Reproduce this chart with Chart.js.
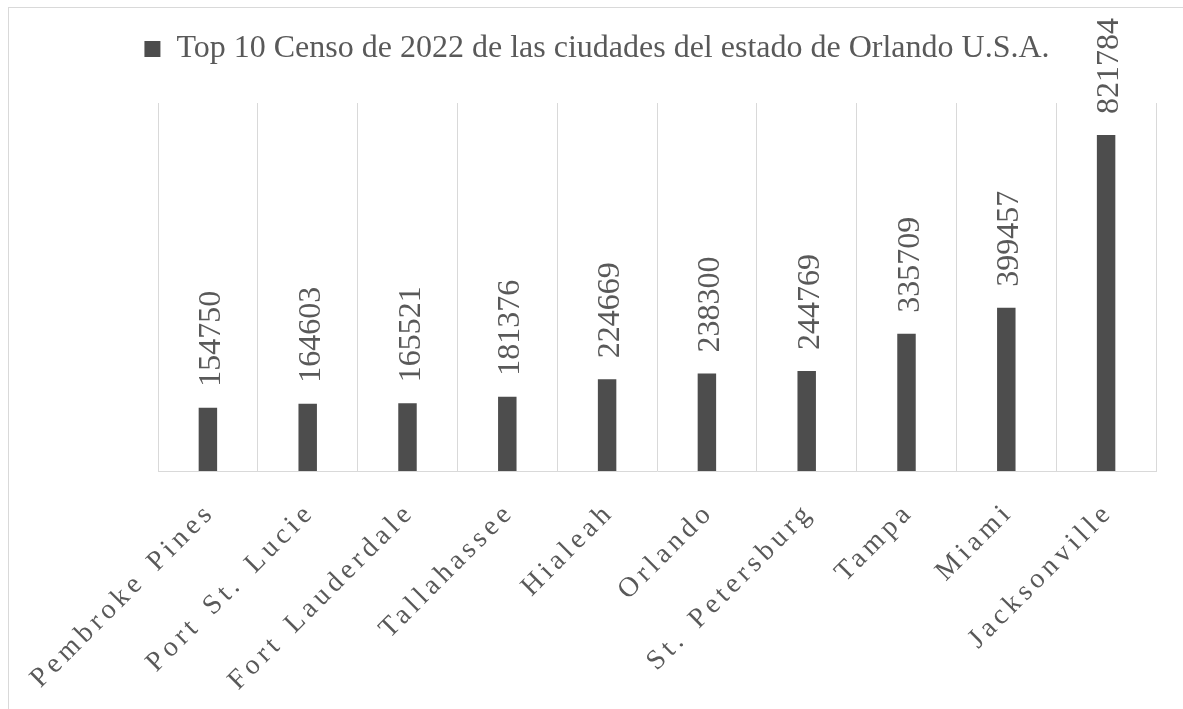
<!DOCTYPE html>
<html>
<head>
<meta charset="utf-8">
<script src="https://cdn.jsdelivr.net/npm/chart.js@4"></script>
<style>
  html, body { margin: 0; padding: 0; background: #fff; overflow: hidden; }
  #wrap { position: relative; width: 1183px; height: 709px; }
  #frame { position: absolute; left: 8px; top: 7px; width: 1300px; height: 800px; border: 1px solid #d9d9d9; }
  #chartOne { position: absolute; left: 0; top: 0; }
</style>
</head>
<body>
<div id="wrap">
  <div id="frame"></div>
  <canvas id="chartOne" width="1183" height="709"></canvas>
</div>
<script>
"use strict";

let cities = [
  "Pembroke Pines",
  "Port St. Lucie",
  "Fort Lauderdale",
  "Tallahassee",
  "Hialeah",
  "Orlando",
  "St. Petersburg",
  "Tampa",
  "Miami",
  "Jacksonville",
];
let population = [154750, 164603, 165521, 181376, 224669, 238300, 244769, 335709, 399457, 821784];
let seriesName = "Top 10 Censo de 2022 de las ciudades del estado de Orlando U.S.A.";

let serif = "'Liberation Serif', 'Times New Roman', serif";
let grey = "#595959";

// numbers written upright above each bar
let barLabels = {
  id: "barLabels",
  afterDatasetsDraw(chart) {
    let ctx = chart.ctx;
    let meta = chart.getDatasetMeta(0);
    ctx.save();
    ctx.font = "32px " + serif;
    ctx.fillStyle = grey;
    ctx.textAlign = "left";
    ctx.textBaseline = "alphabetic";
    meta.data.forEach((bar, i) => {
      ctx.save();
      ctx.translate(bar.x + 12, bar.y - 21);
      ctx.rotate(-Math.PI / 2);
      ctx.fillText(String(chart.data.datasets[0].data[i]), 0, 0);
      ctx.restore();
    });
    ctx.restore();
  },
};

// wide letter spacing on the city names, extra room under the legend
let tweaks = {
  id: "tweaks",
  beforeLayout(chart) {
    let lg = chart.legend;
    if (lg && !lg._padded) {
      let fit = lg.fit.bind(lg);
      lg.fit = function () {
        fit();
        this.height += 28;
      };
      lg._padded = true;
    }
  },
  afterLayout(chart) {
    let sc = chart.scales.x;
    if (!sc._spaced) {
      let orig = sc.drawLabels.bind(sc);
      sc.drawLabels = function (area) {
        let c = this.ctx;
        c.save();
        c.letterSpacing = "4.5px";
        c.wordSpacing = "4px";
        orig(area);
        c.restore();
      };
      sc._spaced = true;
    }
  },
};

let ctxOne = document.getElementById("chartOne").getContext("2d");
let chartOne = new Chart(ctxOne, {
  type: "bar",
  data: {
    labels: cities,
    datasets: [
      {
        label: seriesName,
        data: population,
        backgroundColor: "#4d4d4d",
        barPercentage: 0.185,
        categoryPercentage: 1,
      },
    ],
  },
  options: {
    responsive: false,
    animation: false,
    layout: {
      padding: { left: 11, right: 0, top: 23, bottom: 0 },
    },
    plugins: {
      tooltip: { enabled: false },
      legend: {
        position: "top",
        labels: {
          font: { family: serif, size: 32 },
          color: grey,
          boxWidth: 16,
          boxHeight: 16,
          padding: 10,
        },
      },
    },
    scales: {
      x: {
        offset: true,
        grid: { offset: true, color: "#d9d9d9", drawTicks: false },
        border: { color: "#d9d9d9" },
        ticks: {
          autoSkip: false,
          minRotation: 45,
          maxRotation: 45,
          font: { family: serif, size: 28 },
          color: grey,
          padding: 25,
          labelOffset: 3,
        },
        afterFit(scale) {
          scale.paddingLeft = 158;
          scale.paddingRight = 27;
          scale.height = 238;
        },
      },
      y: {
        display: false,
        min: 0,
        max: 900000,
      },
    },
  },
  plugins: [barLabels, tweaks],
});
</script>
</body>
</html>
